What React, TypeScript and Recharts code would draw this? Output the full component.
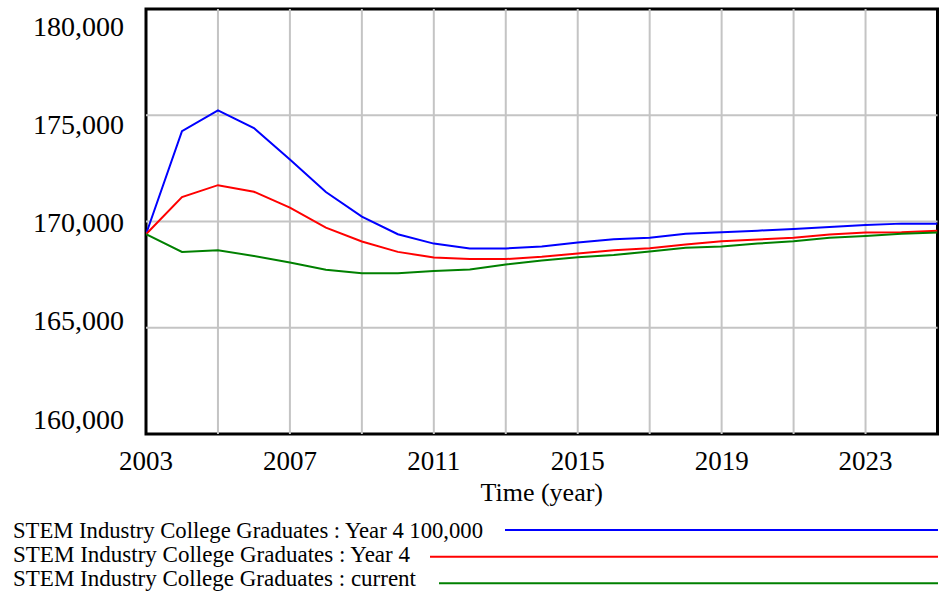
import React from 'react';
import { LineChart, Line, XAxis, YAxis, ReferenceLine, ReferenceArea, Legend, Label } from 'recharts';

const years = [2003, 2004, 2005, 2006, 2007, 2008, 2009, 2010, 2011, 2012, 2013, 2014, 2015, 2016, 2017, 2018, 2019, 2020, 2021, 2022, 2023, 2024, 2025];
const year4Plus100k = [169400, 174250, 175230, 174400, 172920, 171385, 170230, 169400, 168960, 168730, 168730, 168820, 169010, 169170, 169230, 169420, 169490, 169570, 169650, 169740, 169840, 169900, 169900];
const year4 = [169400, 171150, 171710, 171400, 170650, 169710, 169060, 168570, 168310, 168230, 168230, 168340, 168490, 168650, 168740, 168920, 169070, 169150, 169230, 169390, 169480, 169490, 169560];
const current = [169400, 168570, 168650, 168380, 168070, 167730, 167570, 167570, 167670, 167740, 167980, 168170, 168320, 168420, 168590, 168760, 168820, 168960, 169070, 169230, 169320, 169420, 169480];

const xTicks = [2003, 2007, 2011, 2015, 2019, 2023];
const yTicks = [160000, 165000, 170000, 175000, 180000];
const gridYears = [2005, 2007, 2009, 2011, 2013, 2015, 2017, 2019, 2021, 2023];
const gridValues = [165000, 170000, 175000];

const seriesNames = [
  'STEM Industry College Graduates : Year 4 100,000',
  'STEM Industry College Graduates : Year 4',
  'STEM Industry College Graduates : current',
];
const seriesColors = ['#0000ff', '#ff0000', '#008000'];

const data = years.map((y, i) => ({
  year: y,
  a: year4Plus100k[i],
  b: year4[i],
  c: current[i],
}));

const FONT = '"Liberation Serif", "Times New Roman", serif';

const XTick = (props: any) => {
  const { x, y, payload } = props;
  return (
    <text x={x} y={y + 36} textAnchor="middle" fontFamily={FONT} fontSize={27} fill="#000">
      {payload.value}
    </text>
  );
};

const YTick = (props: any) => {
  const { x, y, payload } = props;
  // Vensim-style label spacing: labels are spread slightly tighter than grid lines
  const cy = 26.5 + (y - 9) * (392.5 / 425);
  return (
    <text x={x - 22} y={cy + 9.5} textAnchor="end" fontFamily={FONT} fontSize={28} fill="#000">
      {Number(payload.value).toLocaleString('en-US')}
    </text>
  );
};

const legendRows = [
  { textY: 37, lineY: 29, lineX1: 505, textLen: 470 },
  { textY: 61, lineY: 55.7, lineX1: 430, textLen: 397 },
  { textY: 85, lineY: 82.3, lineX1: 439, textLen: 403 },
];

const LegendContent = () => (
  <svg width={939} height={95} style={{ display: 'block' }}>
    {seriesNames.map((name, i) => (
      <g key={name}>
        <text
          x={13}
          y={legendRows[i].textY}
          fontFamily={FONT}
          fontSize={24}
          fill="#000"
          textLength={legendRows[i].textLen}
          lengthAdjust="spacingAndGlyphs"
        >
          {name}
        </text>
        <line x1={legendRows[i].lineX1} x2={938} y1={legendRows[i].lineY} y2={legendRows[i].lineY} stroke={seriesColors[i]} strokeWidth={2} />
      </g>
    ))}
  </svg>
);

export default function App() {
  return (
    <div style={{ position: 'absolute', left: 0, top: 0, width: 939, height: 596, background: '#fff' }}>
      <LineChart width={939} height={596} data={data} margin={{ top: 9, right: 1.5, left: 0, bottom: 0 }}>
        <XAxis
          dataKey="year"
          type="number"
          domain={[2003, 2025]}
          ticks={xTicks}
          allowDataOverflow
          axisLine={false}
          tickLine={false}
          tickSize={0}
          tickMargin={0}
          height={67}
          tick={<XTick />}
          interval={0}
        >
          <Label
            content={(p: any) => {
              const vb = p.viewBox || {};
              return (
                <text x={vb.x + vb.width / 2} y={vb.y + 67} textAnchor="middle" fontFamily={FONT} fontSize={26} fill="#000">
                  Time (year)
                </text>
              );
            }}
          />
        </XAxis>
        <YAxis
          type="number"
          domain={[160000, 180000]}
          ticks={yTicks}
          allowDataOverflow
          axisLine={false}
          tickLine={false}
          tickSize={0}
          tickMargin={0}
          width={146}
          tick={<YTick />}
          interval={0}
        />
        {gridYears.map((g) => (
          <ReferenceLine key={'vx' + g} x={g} stroke="#c4c4c4" strokeWidth={2} />
        ))}
        {gridValues.map((g) => (
          <ReferenceLine key={'hy' + g} y={g} stroke="#c4c4c4" strokeWidth={2} />
        ))}
        <Legend verticalAlign="bottom" content={<LegendContent />} wrapperStyle={{ height: 95, left: 0, width: 939 }} />
        <Line type="linear" dataKey="a" name={seriesNames[0]} stroke={seriesColors[0]} strokeWidth={2} dot={false} isAnimationActive={false} />
        <Line type="linear" dataKey="b" name={seriesNames[1]} stroke={seriesColors[1]} strokeWidth={2} dot={false} isAnimationActive={false} />
        <Line type="linear" dataKey="c" name={seriesNames[2]} stroke={seriesColors[2]} strokeWidth={2} dot={false} isAnimationActive={false} />
        <ReferenceArea x1={2003} x2={2025} y1={160000} y2={180000} fill="none" stroke="#000" strokeWidth={3} />
      </LineChart>
    </div>
  );
}
